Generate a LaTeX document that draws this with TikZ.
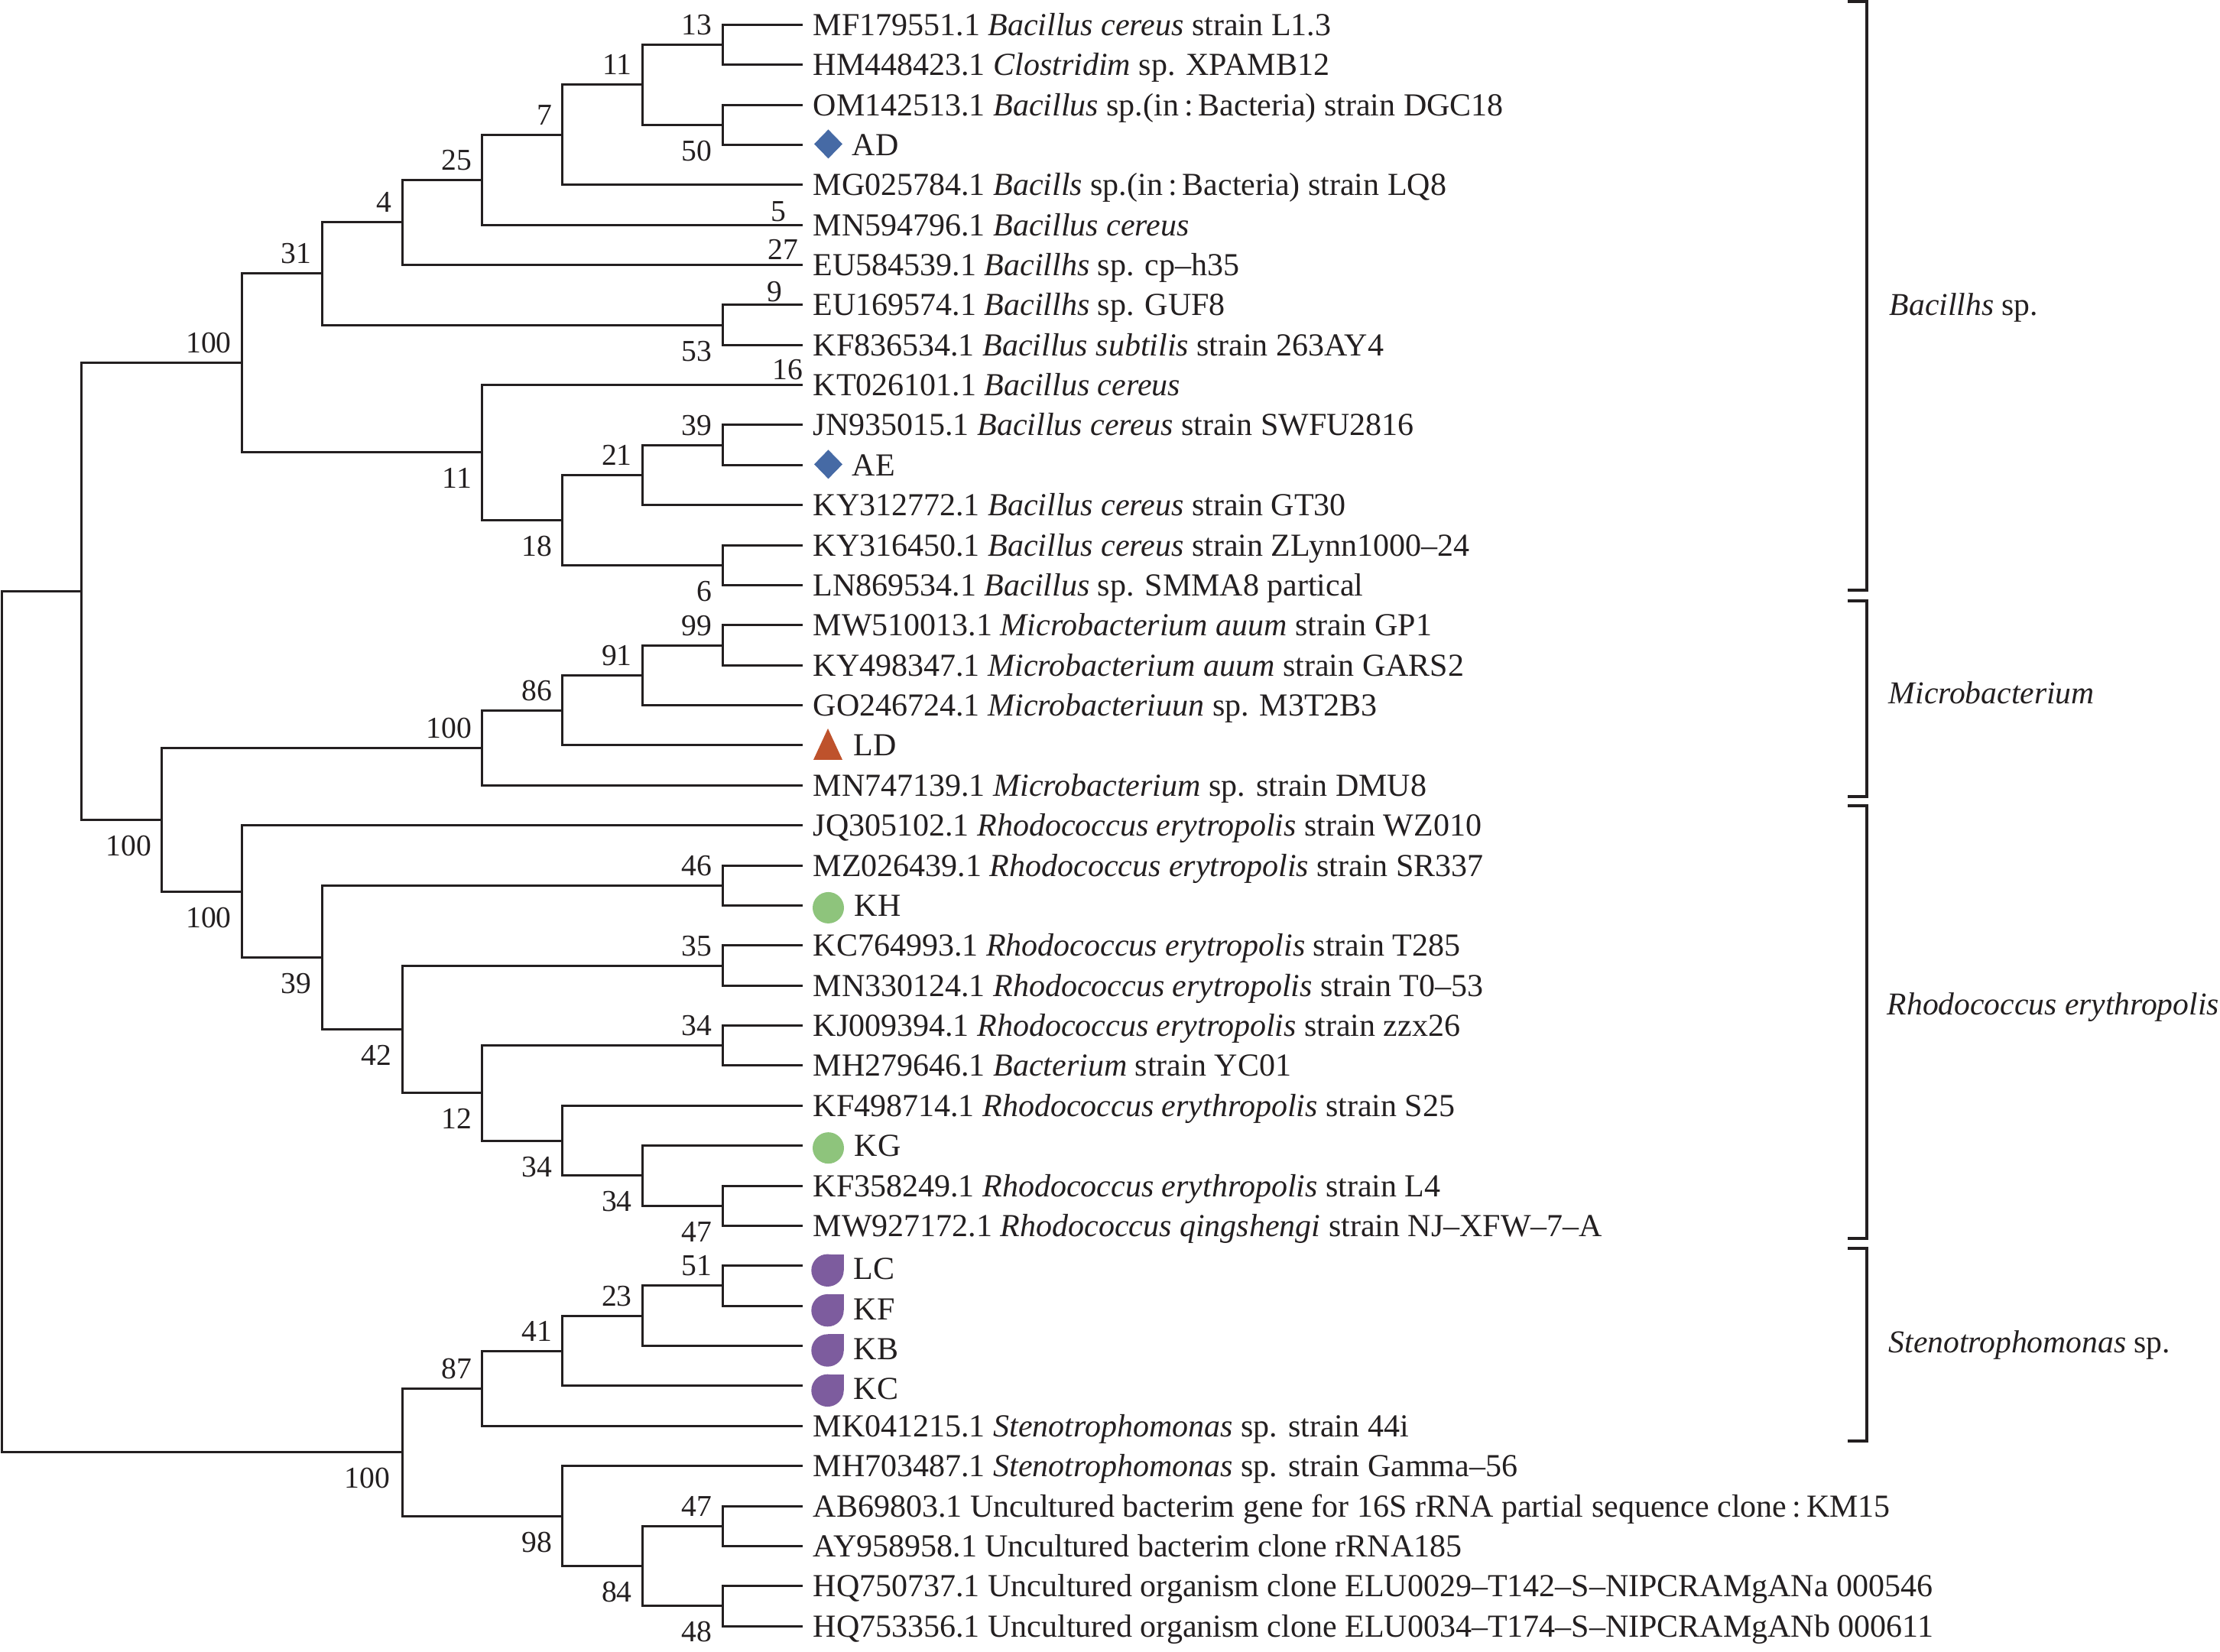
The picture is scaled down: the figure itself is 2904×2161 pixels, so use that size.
\documentclass[tikz,border=0pt]{standalone}
\usepackage{fontspec}
\setmainfont{Liberation Serif}
\usetikzlibrary{calc}
\definecolor{treecol}{RGB}{35,31,32}
\definecolor{adcol}{RGB}{70,106,165}
\definecolor{ldcol}{RGB}{190,82,44}
\definecolor{khcol}{RGB}{142,196,124}
\definecolor{lccol}{RGB}{125,92,158}
\begin{document}
\begin{tikzpicture}[x=0.25pt,y=-0.25pt,
  branch/.style={draw=treecol,line width=0.75pt},
  bracketline/.style={draw=treecol,line width=0.85pt},
  leaf/.style={anchor=base west,inner sep=0pt,font=\fontsize{10.5}{12}\selectfont,text=treecol},
  bootA/.style={anchor=base east,inner sep=0pt,font=\fontsize{9.9}{12}\selectfont,text=treecol},
  grouplab/.style={anchor=base west,inner sep=0pt,font=\fontsize{10.4}{12}\selectfont,text=treecol}]
\useasboundingbox (0,0) rectangle (2904,2161);
% leaf tips
\foreach \i in {1,...,41}{\coordinate (l\i) at (1050,{32.3+52.37*(\i-1)});}
% internal nodes
\coordinate (na) at (945.2,58.49);
\coordinate (nb) at (945.2,163.23);
\coordinate (nc) at (840.4,110.86);
\coordinate (nd) at (735.6,176.32);
\coordinate (ne) at (630.8,235.24);
\coordinate (nf) at (526.0,290.88);
\coordinate (ng) at (945.2,425.08);
\coordinate (nh) at (421.2,357.98);
\coordinate (ni) at (945.2,582.19);
\coordinate (nj) at (840.4,621.46);
\coordinate (nk) at (945.2,739.30);
\coordinate (nl) at (735.6,680.38);
\coordinate (nm) at (630.8,592.0);
\coordinate (nn) at (316.4,474.99);
\coordinate (no) at (945.2,844.04);
\coordinate (np) at (840.4,883.31);
\coordinate (nq) at (735.6,929.14);
\coordinate (nr) at (630.8,978.23);
\coordinate (ns) at (945.2,1158.26);
\coordinate (nt) at (945.2,1263.0);
\coordinate (nu) at (945.2,1367.74);
\coordinate (nv) at (945.2,1577.22);
\coordinate (nw) at (840.4,1537.94);
\coordinate (nx) at (735.6,1492.11);
\coordinate (ny) at (630.8,1429.93);
\coordinate (nz) at (526.0,1346.46);
\coordinate (naa) at (421.2,1252.36);
\coordinate (nab) at (316.4,1166.03);
\coordinate (nac) at (211.6,1072.13);
\coordinate (nad) at (106.8,773.56);
\coordinate (nae) at (945.2,1681.96);
\coordinate (naf) at (840.4,1721.23);
\coordinate (nag) at (735.6,1767.06);
\coordinate (nah) at (630.8,1816.15);
\coordinate (nai) at (945.2,1996.18);
\coordinate (naj) at (945.2,2100.92);
\coordinate (nak) at (840.4,2048.55);
\coordinate (nal) at (735.6,1983.08);
\coordinate (nam) at (526.0,1899.62);
\coordinate (root) at (2.0,1336.59);
% branches
\foreach \p/\c in {root/nad,root/nam,nad/nn,nad/nac,nn/nh,nn/nm,nh/nf,nh/ng,
  nf/ne,nf/l7,ne/nd,ne/l6,nd/nc,nd/l5,nc/na,nc/nb,na/l1,na/l2,nb/l3,nb/l4,
  ng/l8,ng/l9,nm/l10,nm/nl,nl/nj,nl/nk,nj/ni,nj/l13,ni/l11,ni/l12,nk/l14,nk/l15,
  nac/nr,nac/nab,nr/nq,nr/l20,nq/np,nq/l19,np/no,np/l18,no/l16,no/l17,
  nab/l21,nab/naa,naa/ns,naa/nz,ns/l22,ns/l23,nz/nt,nz/ny,nt/l24,nt/l25,
  ny/nu,ny/nx,nu/l26,nu/l27,nx/l28,nx/nw,nw/l29,nw/nv,nv/l30,nv/l31,
  nam/nah,nam/nal,nah/nag,nah/l36,nag/naf,nag/l35,naf/nae,naf/l34,nae/l32,nae/l33,
  nal/l37,nal/nak,nak/nai,nak/naj,nai/l38,nai/l39,naj/l40,naj/l41}
  {\draw[branch] (\p) |- (\c);}
% leaf labels
\node[leaf] (t1) at ($(l1)+(13,14)$) {MF179551.1 \textit{Bacillus cereus} strain L1.3};
\node[leaf] (t2) at ($(l2)+(13,14)$) {HM448423.1 \textit{Clostridim} sp. XPAMB12};
\node[leaf] (t3) at ($(l3)+(13,14)$) {OM142513.1 \textit{Bacillus} sp.(in\,:\,Bacteria) strain DGC18};
\node[leaf] (t4) at ($(l4)+(64,14)$) {AD};
\node[leaf] (t5) at ($(l5)+(13,14)$) {MG025784.1 \textit{Bacills} sp.(in\,:\,Bacteria) strain LQ8};
\node[leaf] (t6) at ($(l6)+(13,14)$) {MN594796.1 \textit{Bacillus cereus}};
\node[leaf] (t7) at ($(l7)+(13,14)$) {EU584539.1 \textit{Bacillhs} sp. cp–h35};
\node[leaf] (t8) at ($(l8)+(13,14)$) {EU169574.1 \textit{Bacillhs} sp. GUF8};
\node[leaf] (t9) at ($(l9)+(13,14)$) {KF836534.1 \textit{Bacillus subtilis} strain 263AY4};
\node[leaf] (t10) at ($(l10)+(13,14)$) {KT026101.1 \textit{Bacillus cereus}};
\node[leaf] (t11) at ($(l11)+(13,14)$) {JN935015.1 \textit{Bacillus cereus} strain SWFU2816};
\node[leaf] (t12) at ($(l12)+(64,14)$) {AE};
\node[leaf] (t13) at ($(l13)+(13,14)$) {KY312772.1 \textit{Bacillus cereus} strain GT30};
\node[leaf] (t14) at ($(l14)+(13,14)$) {KY316450.1 \textit{Bacillus cereus} strain ZLynn1000–24};
\node[leaf] (t15) at ($(l15)+(13,14)$) {LN869534.1 \textit{Bacillus} sp. SMMA8 partical};
\node[leaf] (t16) at ($(l16)+(13,14)$) {MW510013.1 \textit{Microbacterium auum} strain GP1};
\node[leaf] (t17) at ($(l17)+(13,14)$) {KY498347.1 \textit{Microbacterium auum} strain GARS2};
\node[leaf] (t18) at ($(l18)+(13,14)$) {GO246724.1 \textit{Microbacteriuun} sp. M3T2B3};
\node[leaf] (t19) at ($(l19)+(66,14)$) {LD};
\node[leaf] (t20) at ($(l20)+(13,14)$) {MN747139.1 \textit{Microbacterium} sp. strain DMU8};
\node[leaf] (t21) at ($(l21)+(13,14)$) {JQ305102.1 \textit{Rhodococcus erytropolis} strain WZ010};
\node[leaf] (t22) at ($(l22)+(13,14)$) {MZ026439.1 \textit{Rhodococcus erytropolis} strain SR337};
\node[leaf] (t23) at ($(l23)+(67,14)$) {KH};
\node[leaf] (t24) at ($(l24)+(13,14)$) {KC764993.1 \textit{Rhodococcus erytropolis} strain T285};
\node[leaf] (t25) at ($(l25)+(13,14)$) {MN330124.1 \textit{Rhodococcus erytropolis} strain T0–53};
\node[leaf] (t26) at ($(l26)+(13,14)$) {KJ009394.1 \textit{Rhodococcus erytropolis} strain zzx26};
\node[leaf] (t27) at ($(l27)+(13,14)$) {MH279646.1 \textit{Bacterium} strain YC01};
\node[leaf] (t28) at ($(l28)+(13,14)$) {KF498714.1 \textit{Rhodococcus erythropolis} strain S25};
\node[leaf] (t29) at ($(l29)+(67,14)$) {KG};
\node[leaf] (t30) at ($(l30)+(13,14)$) {KF358249.1 \textit{Rhodococcus erythropolis} strain L4};
\node[leaf] (t31) at ($(l31)+(13,14)$) {MW927172.1 \textit{Rhodococcus qingshengi} strain NJ–XFW–7–A};
\node[leaf] (t32) at ($(l32)+(66,18)$) {LC};
\node[leaf] (t33) at ($(l33)+(66,18)$) {KF};
\node[leaf] (t34) at ($(l34)+(66,18)$) {KB};
\node[leaf] (t35) at ($(l35)+(66,18)$) {KC};
\node[leaf] (t36) at ($(l36)+(13,14)$) {MK041215.1 \textit{Stenotrophomonas} sp. strain 44i};
\node[leaf] (t37) at ($(l37)+(13,14)$) {MH703487.1 \textit{Stenotrophomonas} sp. strain Gamma–56};
\node[leaf] (t38) at ($(l38)+(13,14)$) {AB69803.1 Uncultured bacterim gene for 16S rRNA partial sequence clone\,:\,KM15};
\node[leaf] (t39) at ($(l39)+(13,14)$) {AY958958.1 Uncultured bacterim clone rRNA185};
\node[leaf] (t40) at ($(l40)+(13,14)$) {HQ750737.1 Uncultured organism clone ELU0029–T142–S–NIPCRAMgANa 000546};
\node[leaf] (t41) at ($(l41)+(13,14)$) {HQ753356.1 Uncultured organism clone ELU0034–T174–S–NIPCRAMgANb 000611};
% markers
\foreach \l in {l4,l12}{\fill[adcol] ($(\l)+(33.5,-20)$) -- ($(\l)+(52,-1)$) -- ($(\l)+(33.5,18)$) -- ($(\l)+(15,-1)$) -- cycle;}
\fill[ldcol] ($(l19)+(33,-22)$) -- ($(l19)+(52,19)$) -- ($(l19)+(14,19)$) -- cycle;
\foreach \l in {l23,l29}{\fill[khcol] ($(\l)+(33.5,3)$) circle [radius=5.125pt];}
\foreach \l in {l32,l33,l34,l35}{
  \fill[lccol] ($(\l)+(32.5,6)$) circle [radius=5.3pt];
  \fill[lccol] ($(\l)+(32.5,-15.2)$) rectangle ($(\l)+(53.7,6)$);}
% bootstrap values (above = -13, below = +47)
\node[bootA] (b1) at ($(na)+(-13,-13)$) {13};
\node[bootA] (b2) at ($(nb)+(-13,47)$) {50};
\node[bootA] (b3) at ($(nc)+(-13,-13)$) {11};
\node[bootA] (b4) at ($(nd)+(-13,-13)$) {7};
\node[bootA] (b5) at ($(ne)+(-13,-13)$) {25};
\node[bootA] (b6) at ($(nf)+(-13,-13)$) {4};
\node[bootA] (b7) at (1029,290) {5};
\node[bootA] (b8) at (1045,340) {27};
\node[bootA] (b9) at (1024,395) {9};
\node[bootA] (b10) at (1051,497) {16};
\node[bootA] (b11) at ($(ng)+(-13,47)$) {53};
\node[bootA] (b12) at ($(nh)+(-13,-13)$) {31};
\node[bootA] (b13) at ($(ni)+(-13,-13)$) {39};
\node[bootA] (b14) at ($(nj)+(-13,-13)$) {21};
\node[bootA] (b15) at ($(nk)+(-13,47)$) {6};
\node[bootA] (b16) at ($(nl)+(-13,47)$) {18};
\node[bootA] (b17) at ($(nm)+(-13,47)$) {11};
\node[bootA] (b18) at ($(nn)+(-13,-13)$) {100};
\node[bootA] (b19) at ($(no)+(-13,-13)$) {99};
\node[bootA] (b20) at ($(np)+(-13,-13)$) {91};
\node[bootA] (b21) at ($(nq)+(-13,-13)$) {86};
\node[bootA] (b22) at ($(nr)+(-13,-13)$) {100};
\node[bootA] (b23) at ($(ns)+(-13,-13)$) {46};
\node[bootA] (b24) at ($(nt)+(-13,-13)$) {35};
\node[bootA] (b25) at ($(nu)+(-13,-13)$) {34};
\node[bootA] (b26) at ($(nv)+(-13,47)$) {47};
\node[bootA] (b27) at ($(nw)+(-13,47)$) {34};
\node[bootA] (b28) at ($(nx)+(-13,47)$) {34};
\node[bootA] (b29) at ($(ny)+(-13,47)$) {12};
\node[bootA] (b30) at ($(nz)+(-13,47)$) {42};
\node[bootA] (b31) at ($(naa)+(-13,47)$) {39};
\node[bootA] (b32) at ($(nab)+(-13,47)$) {100};
\node[bootA] (b33) at ($(nac)+(-13,47)$) {100};
\node[bootA] (b34) at ($(nae)+(-13,-13)$) {51};
\node[bootA] (b35) at ($(naf)+(-13,-13)$) {23};
\node[bootA] (b36) at ($(nag)+(-13,-13)$) {41};
\node[bootA] (b37) at ($(nah)+(-13,-13)$) {87};
\node[bootA] (b38) at ($(nai)+(-13,-13)$) {47};
\node[bootA] (b39) at ($(naj)+(-13,47)$) {48};
\node[bootA] (b40) at ($(nak)+(-13,47)$) {84};
\node[bootA] (b41) at ($(nal)+(-13,47)$) {98};
\node[bootA] (b42) at ($(nam)+(-15,47)$) {100};
% group brackets
\draw[bracketline] (2417,2) -- (2442,2) -- (2442,772) -- (2417,772);
\draw[bracketline] (2417,786) -- (2442,786) -- (2442,1042) -- (2417,1042);
\draw[bracketline] (2417,1054) -- (2442,1054) -- (2442,1620) -- (2417,1620);
\draw[bracketline] (2417,1633) -- (2442,1633) -- (2442,1885) -- (2417,1885);
\node[grouplab] (g1) at (2471,413) {\textit{Bacillhs} sp.};
\node[grouplab] (g2) at (2470,920) {\textit{Microbacterium}};
\node[grouplab] (g3) at (2468,1327) {\textit{Rhodococcus erythropolis}};
\node[grouplab] (g4) at (2470,1769) {\textit{Stenotrophomonas} sp.};
\end{tikzpicture}
\end{document}
